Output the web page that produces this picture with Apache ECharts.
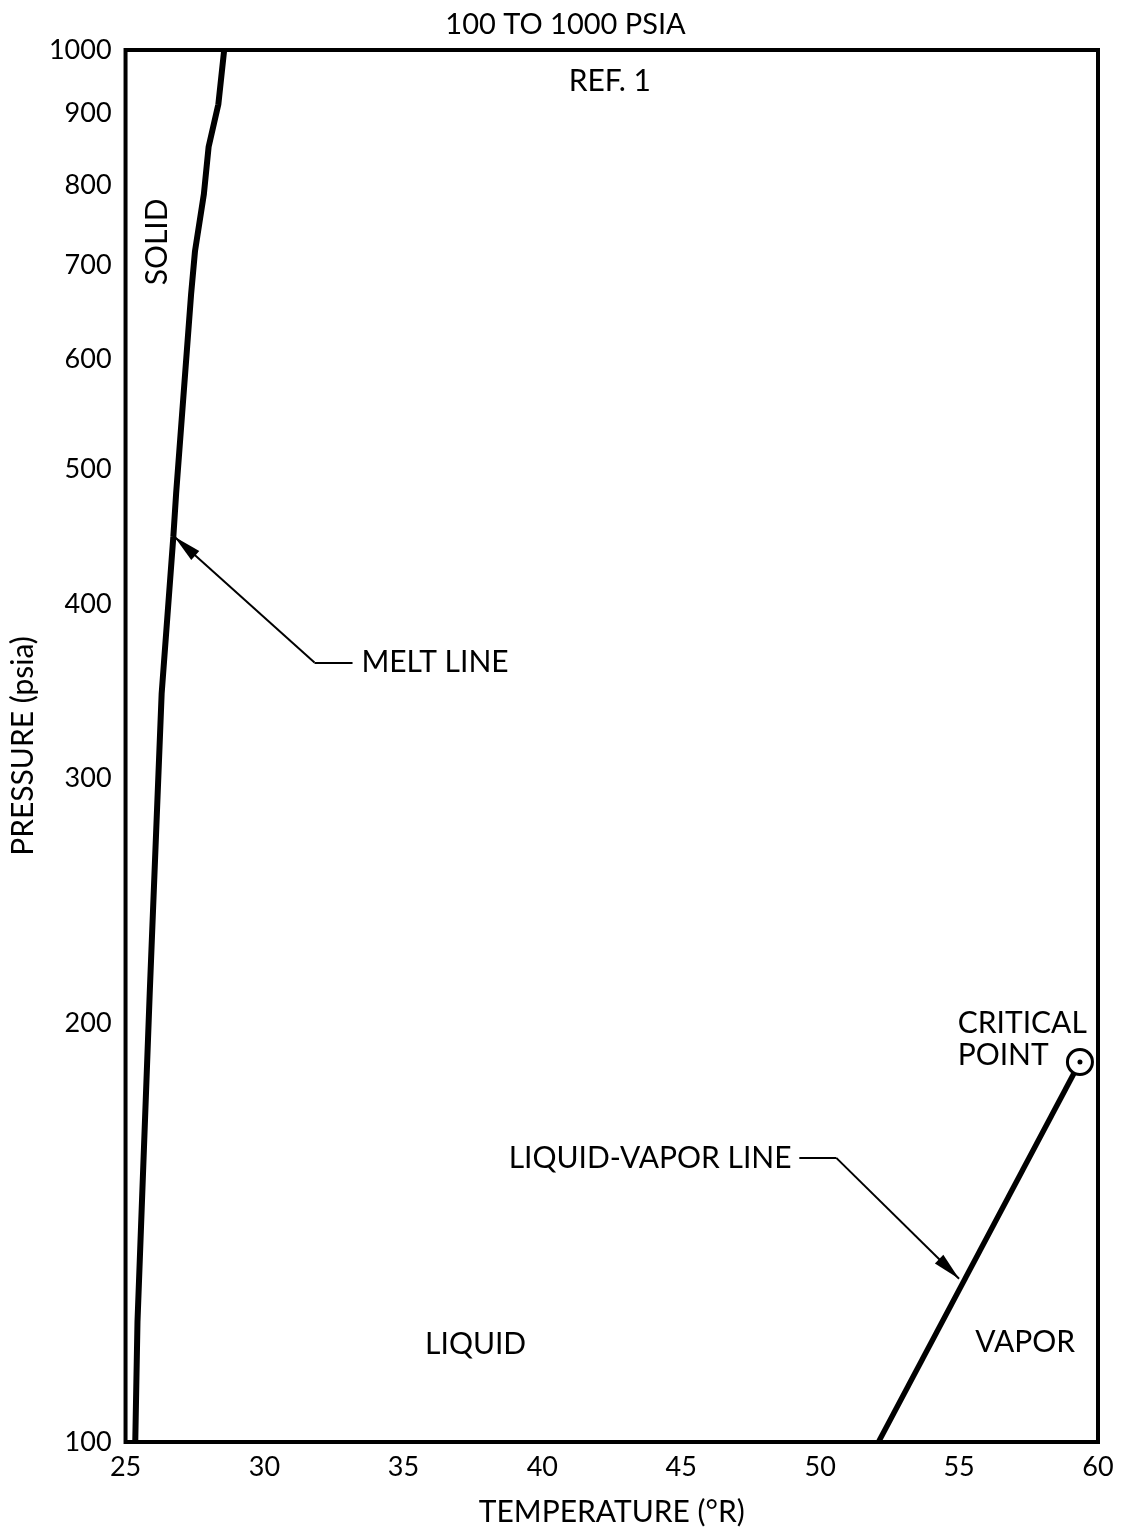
<!DOCTYPE html>
<html><head><meta charset="utf-8">
<script src="https://cdn.jsdelivr.net/npm/echarts@6/dist/echarts.min.js"></script>
<style>html,body{margin:0;padding:0;background:#fff}#c{width:1131px;height:1535px}</style>
</head><body><div id="c"></div>
<script>
// ---- data ----
const tempTicks = [25, 30, 35, 40, 45, 50, 55, 60];
const pressureTicks = [100, 200, 300, 400, 500, 600, 700, 800, 900, 1000];

// melt line (temperature °R, pressure psia)
const meltT = [25.35, 25.43, 25.87, 26.30, 26.72, 26.82, 27.36, 27.50, 27.82, 27.99, 28.34, 28.55];
const meltP = [100, 122, 210, 345, 447, 480, 668, 717, 788, 852, 914, 1000];

// liquid-vapor line
const lvT = [52.1, 59.35];
const lvP = [100, 187.5];

// critical point
const critT = [59.35];
const critP = [187.5];

// leader lines: [start(text end), elbow, arrow tip]
const meltLeaderT = [33.17, 31.80, 26.76];
const meltLeaderP = [363, 363, 447];
const lvLeaderT = [49.25, 50.58, 55.0];
const lvLeaderP = [160, 160, 131];

// annotation texts
const noteText = ['SOLID', 'REF. 1', 'LIQUID', 'VAPOR', 'CRITICAL\nPOINT', 'MELT LINE', 'LIQUID-VAPOR LINE'];
const noteT = [26.14, 42.43, 37.6, 57.38, 54.95, 33.49, 48.97];
const noteP = [728, 949, 117.5, 117.9, 194.6, 363, 160];
const noteAlign = ['center', 'center', 'center', 'center', 'left', 'left', 'right'];
const noteRotate = [90, 0, 0, 0, 0, 0, 0];

const titleText = '100 TO 1000 PSIA';
const xName = 'TEMPERATURE (°R)';
const yName = 'PRESSURE (psia)';

// ---- chart ----
const FONT = 'Lato';
const zip = (a, b) => a.map((v, i) => [v, b[i]]);
const arrowPath = 'path://M0,-32M0,0L5,32L-5,32Z';

const chart = echarts.init(document.getElementById('c'), null, {renderer: 'canvas'});
chart.setOption({
  animation: false,
  backgroundColor: '#fff',
  textStyle: {fontFamily: FONT, color: '#000'},
  title: {
    text: titleText, left: 'center', top: 5,
    textStyle: {fontFamily: FONT, fontSize: 29, fontWeight: 'normal', color: '#000'}
  },
  grid: {left: 121, right: 33, top: 50, bottom: 93, show: true, borderColor: '#000', borderWidth: 4, backgroundColor: 'transparent'},
  xAxis: {
    type: 'value', min: 25, max: 60, interval: 5,
    name: xName, nameLocation: 'middle', nameGap: 55,
    nameTextStyle: {fontFamily: FONT, fontSize: 30, color: '#000'},
    axisLine: {show: false}, axisTick: {show: false}, splitLine: {show: false},
    axisLabel: {fontFamily: FONT, fontSize: 27, color: '#000', margin: 12,
      customValues: tempTicks, formatter: v => String(v)}
  },
  yAxis: {
    type: 'log', logBase: 10, min: 100, max: 1000,
    name: yName, nameLocation: 'middle', nameGap: 66,
    nameTextStyle: {fontFamily: FONT, fontSize: 30, color: '#000'},
    axisLine: {show: false}, axisTick: {show: false}, splitLine: {show: false},
    axisLabel: {fontFamily: FONT, fontSize: 27, color: '#000', margin: 14,
      customValues: pressureTicks, formatter: v => String(Math.round(v))}
  },
  series: [
    {type: 'line', name: 'melt', data: zip(meltT, meltP), symbol: 'none',
      lineStyle: {color: '#000', width: 6}, z: 3},
    {type: 'line', name: 'lv', data: zip(lvT, lvP), symbol: 'none',
      lineStyle: {color: '#000', width: 5.5}, z: 3},
    {type: 'lines', coordinateSystem: 'cartesian2d', symbol: 'none',
      lineStyle: {color: '#000', width: 2, opacity: 1},
      data: [
        {coords: [[meltLeaderT[0], meltLeaderP[0]], [meltLeaderT[1], meltLeaderP[1]]]},
        {coords: [[lvLeaderT[0], lvLeaderP[0]], [lvLeaderT[1], lvLeaderP[1]]]}
      ], z: 4},
    {type: 'lines', coordinateSystem: 'cartesian2d', symbol: ['none', arrowPath],
      symbolSize: [[12, 56], [12, 56]],
      lineStyle: {color: '#000', width: 2, opacity: 1},
      itemStyle: {color: '#000'},
      data: [
        {coords: [[meltLeaderT[1], meltLeaderP[1]], [meltLeaderT[2], meltLeaderP[2]]]},
        {coords: [[lvLeaderT[1], lvLeaderP[1]], [lvLeaderT[2], lvLeaderP[2]]]}
      ], z: 4},
    {type: 'scatter', data: zip(critT, critP), symbol: 'circle', symbolSize: 25,
      itemStyle: {color: '#fff', borderColor: '#000', borderWidth: 3, opacity: 1}, z: 6},
    {type: 'scatter', data: zip(critT, critP), symbol: 'circle', symbolSize: 5,
      itemStyle: {color: '#000', opacity: 1}, z: 7},
    {type: 'scatter', symbolSize: 0, z: 8, silent: true,
      itemStyle: {color: '#000', opacity: 1},
      data: noteText.map((t, i) => ({
        value: [noteT[i], noteP[i]],
        itemStyle: {opacity: 1},
        label: {show: true, formatter: t, position: 'inside', align: noteAlign[i],
          verticalAlign: 'middle', rotate: noteRotate[i],
          fontFamily: FONT, fontSize: 30, color: '#000', opacity: 1, lineHeight: 32,
          textBorderWidth: 0}
      }))
    }
  ]
});
</script>
</body></html>
